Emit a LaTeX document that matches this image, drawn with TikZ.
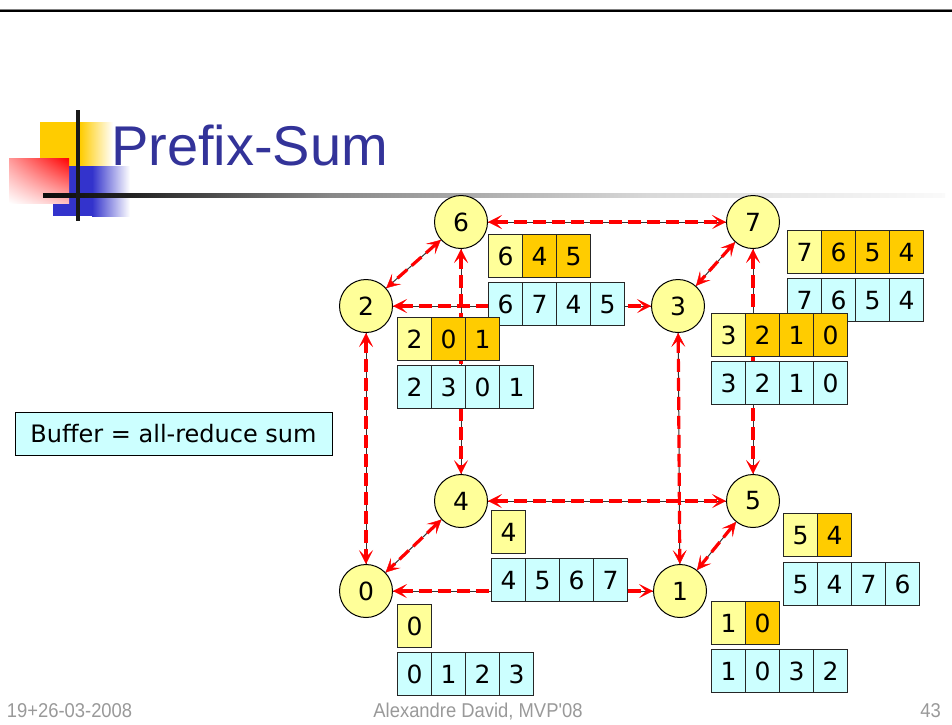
\documentclass[tikz,border=0pt]{standalone}
\usepackage{fontspec}
\setmainfont{DejaVu Sans}
\newfontfamily\titlefont{Liberation Sans}
\usetikzlibrary{arrows.meta,shadings}

\definecolor{titleblue}{HTML}{333399}
\definecolor{logoyellow}{HTML}{FFCC00}
\definecolor{logoblue}{HTML}{3333CC}
\definecolor{nodeyellow}{HTML}{FFFF99}
\definecolor{cellorange}{HTML}{FFCC00}
\definecolor{cellcyan}{HTML}{CCFFFF}
\definecolor{footgray}{HTML}{999999}

\tikzset{
  proc/.style={circle, draw=black, line width=1pt, fill=nodeyellow,
    minimum size=53pt, inner sep=0pt, font=\fontsize{25}{28}\selectfont},
  cell/.style={draw=black!85, line width=1.2pt, minimum width=34pt,
    minimum height=43pt, inner sep=0pt, anchor=north west,
    font=\fontsize{25}{28}\selectfont},
  cy/.style={fill=nodeyellow},
  co/.style={fill=cellorange},
  cc/.style={fill=cellcyan},
  linkbase/.style={draw=black!80, line width=1pt},
  linkred/.style={draw=red, line width=3.2pt, dash pattern=on 13pt off 6pt,
    {Stealth[length=14pt,width=14pt,inset=7pt,line width=0.4pt]}-{Stealth[length=14pt,width=14pt,inset=7pt,line width=0.4pt]}},
  foot/.style={text=footgray, font=\titlefont\fontsize{20}{22}\selectfont,
    xscale=0.92, inner sep=0pt}
}

% a row of buffer cells: name, left x, top y, list of style/digit
\newcommand\cellrow[4]{%
  \foreach [count=\i] \s/\d in {#4} {
    \node[cell, \s] (#1-\i) at ({#2+(\i-1)*34}, #3) {\d};
  }%
}
% a double-headed dashed channel between two processors
\newcommand\channel[2]{%
  \draw[linkbase] (#1) -- (#2);
  \draw[linkred] (#1) -- (#2);
}

\begin{document}
\begin{tikzpicture}[x=1pt, y=-1pt]
\useasboundingbox (0,0) rectangle (952,724);

% top rule
\draw[black!50, line width=1pt] (0,9.5) -- (952,9.5);
\draw[black, line width=2pt] (0,11) -- (952,11);

% slide logo
\fill[logoyellow] (40,122) rectangle (80,166);
\shade[left color=logoyellow, right color=white] (80,122) rectangle (113,166);
\fill[logoblue] (53,166) rectangle (92,216);
\shade[left color=logoblue, right color=white] (92,166) rectangle (130,216);
\shade[upper left=red!40!white, upper right=red, lower left=white,
  lower right=red!25!white] (9,158) rectangle (69,203);
% title underline, fading to the right
\shade[left color=black!95, right color=black!87] (43,193) rectangle (130,197);
\shade[left color=black!87, right color=black!47] (130,193) rectangle (330,197);
\shade[left color=black!47, right color=black!15] (330,193) rectangle (650,197);
\shade[left color=black!15, right color=black!2] (650,193) rectangle (945,197);
\fill[black!90] (76,110) rectangle (80,221);

\node[anchor=base west, inner sep=0pt, text=titleblue,
  font=\titlefont\fontsize{56}{60}\selectfont] (title) at (111,165) {Prefix-Sum};

% processors of the 3-cube
\node[proc] (p6) at (461,222) {6};
\node[proc] (p7) at (753,222) {7};
\node[proc] (p2) at (366,306) {2};
\node[proc] (p3) at (678,306) {3};
\node[proc] (p4) at (461,501) {4};
\node[proc] (p5) at (753,501) {5};
\node[proc] (p0) at (366,591) {0};
\node[proc] (p1) at (680,591) {1};

% channels
\channel{p6}{p7}
\channel{p2}{p3}
\channel{p4}{p5}
\channel{p0}{p1}
\channel{p6}{p2}
\channel{p7}{p3}
\channel{p4}{p0}
\channel{p5}{p1}
\channel{p6}{p4}
\channel{p7}{p5}
\channel{p2}{p0}
\channel{p3}{p1}

% result and buffer of every processor
\cellrow{r6}{488}{234}{cy/6, co/4, co/5}
\cellrow{b6}{488}{282}{cc/6, cc/7, cc/4, cc/5}
\cellrow{r2}{397}{317}{cy/2, co/0, co/1}
\cellrow{b2}{397}{365}{cc/2, cc/3, cc/0, cc/1}
\cellrow{r7}{787}{230}{cy/7, co/6, co/5, co/4}
\cellrow{b7}{787}{278}{cc/7, cc/6, cc/5, cc/4}
\cellrow{r3}{711}{313}{cy/3, co/2, co/1, co/0}
\cellrow{b3}{711}{361}{cc/3, cc/2, cc/1, cc/0}
\cellrow{r4}{491}{510}{cy/4}
\cellrow{b4}{491}{558}{cc/4, cc/5, cc/6, cc/7}
\cellrow{r0}{397}{604}{cy/0}
\cellrow{b0}{397}{652}{cc/0, cc/1, cc/2, cc/3}
\cellrow{r5}{783}{513}{cy/5, co/4}
\cellrow{b5}{783}{562}{cc/5, cc/4, cc/7, cc/6}
\cellrow{r1}{711}{601}{cy/1, co/0}
\cellrow{b1}{711}{649}{cc/1, cc/0, cc/3, cc/2}

% legend
\node[draw=black, line width=1pt, fill=cellcyan, minimum width=317pt,
  minimum height=43pt, inner sep=0pt, font=\fontsize{24}{28}\selectfont]
  (legend) at (173.5,433.5) {Buffer = all-reduce sum};

% footer
\node[foot, anchor=base west] (date) at (6.7,717.3) {19+26-03-2008};
\node[foot, anchor=base] (author) at (478,717.3) {Alexandre David, MVP'08};
\node[foot, anchor=base east] (page) at (941,717.3) {43};
\end{tikzpicture}
\end{document}
